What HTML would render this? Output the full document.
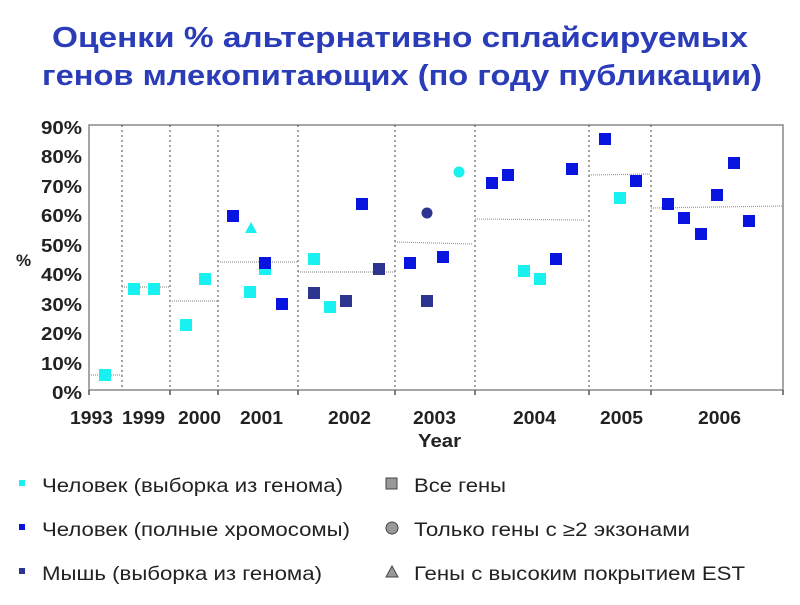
<!DOCTYPE html>
<html><head><meta charset="utf-8"><style>
body{margin:0;width:800px;height:600px;background:#fff;overflow:hidden;font-family:"Liberation Sans",sans-serif}
</style></head><body>
<svg width="800" height="600" xmlns="http://www.w3.org/2000/svg" font-family="Liberation Sans, sans-serif">
<text x="52" y="47" textLength="696" lengthAdjust="spacingAndGlyphs" font-size="29" font-weight="bold" fill="#2a3cb8">Оценки % альтернативно сплайсируемых</text>
<text x="42" y="85" textLength="720" lengthAdjust="spacingAndGlyphs" font-size="29" font-weight="bold" fill="#2a3cb8">генов млекопитающих (по году публикации)</text>
<rect x="89" y="125" width="694" height="265" fill="none" stroke="#888" stroke-width="1.5"/>
<g stroke="#444" stroke-width="1" stroke-dasharray="2,3">
<line x1="122" y1="125" x2="122" y2="390"/><line x1="170" y1="125" x2="170" y2="390"/><line x1="218" y1="125" x2="218" y2="390"/><line x1="298" y1="125" x2="298" y2="390"/><line x1="395" y1="125" x2="395" y2="390"/><line x1="475" y1="125" x2="475" y2="390"/><line x1="589" y1="125" x2="589" y2="390"/><line x1="651" y1="125" x2="651" y2="390"/>
</g>
<g stroke="#999" stroke-width="1.2" stroke-dasharray="1,1">
<line x1="89" y1="375" x2="122" y2="375"/><line x1="122" y1="287" x2="170" y2="287"/><line x1="170" y1="301" x2="218" y2="301"/><line x1="218" y1="262" x2="298" y2="262"/><line x1="298" y1="272" x2="395" y2="272"/><line x1="395" y1="242" x2="473" y2="244"/><line x1="475" y1="219" x2="585" y2="220"/><line x1="589" y1="175" x2="650" y2="174"/><line x1="651" y1="208" x2="783" y2="206"/>
</g>
<g stroke="#555" stroke-width="1.5"><line x1="89" y1="390" x2="89" y2="395"/><line x1="170" y1="390" x2="170" y2="395"/><line x1="218" y1="390" x2="218" y2="395"/><line x1="298" y1="390" x2="298" y2="395"/><line x1="395" y1="390" x2="395" y2="395"/><line x1="475" y1="390" x2="475" y2="395"/><line x1="589" y1="390" x2="589" y2="395"/><line x1="651" y1="390" x2="651" y2="395"/><line x1="783" y1="390" x2="783" y2="395"/></g>
<g font-size="18" font-weight="bold" fill="#222">
<text x="41" y="134" textLength="41" lengthAdjust="spacingAndGlyphs">90%</text><text x="41" y="163" textLength="41" lengthAdjust="spacingAndGlyphs">80%</text><text x="41" y="193" textLength="41" lengthAdjust="spacingAndGlyphs">70%</text><text x="41" y="222" textLength="41" lengthAdjust="spacingAndGlyphs">60%</text><text x="41" y="252" textLength="41" lengthAdjust="spacingAndGlyphs">50%</text><text x="41" y="281" textLength="41" lengthAdjust="spacingAndGlyphs">40%</text><text x="41" y="311" textLength="41" lengthAdjust="spacingAndGlyphs">30%</text><text x="41" y="340" textLength="41" lengthAdjust="spacingAndGlyphs">20%</text><text x="41" y="370" textLength="41" lengthAdjust="spacingAndGlyphs">10%</text><text x="52" y="399" textLength="30" lengthAdjust="spacingAndGlyphs">0%</text>
</g>
<text x="16" y="266" font-size="17" font-weight="bold" fill="#222">%</text>
<g font-size="18" font-weight="bold" fill="#222">
<text x="70" y="424" textLength="43" lengthAdjust="spacingAndGlyphs">1993</text><text x="122" y="424" textLength="43" lengthAdjust="spacingAndGlyphs">1999</text><text x="178" y="424" textLength="43" lengthAdjust="spacingAndGlyphs">2000</text><text x="240" y="424" textLength="43" lengthAdjust="spacingAndGlyphs">2001</text><text x="328" y="424" textLength="43" lengthAdjust="spacingAndGlyphs">2002</text><text x="413" y="424" textLength="43" lengthAdjust="spacingAndGlyphs">2003</text><text x="513" y="424" textLength="43" lengthAdjust="spacingAndGlyphs">2004</text><text x="600" y="424" textLength="43" lengthAdjust="spacingAndGlyphs">2005</text><text x="698" y="424" textLength="43" lengthAdjust="spacingAndGlyphs">2006</text>
<text x="418" y="447" textLength="43" lengthAdjust="spacingAndGlyphs">Year</text>
</g>
<g fill="#19f0f0">
<rect x="99" y="369" width="12" height="12"/><rect x="128" y="283" width="12" height="12"/><rect x="148" y="283" width="12" height="12"/><rect x="180" y="319" width="12" height="12"/><rect x="199" y="273" width="12" height="12"/><rect x="244" y="286" width="12" height="12"/><rect x="259" y="263" width="12" height="12"/><rect x="308" y="253" width="12" height="12"/><rect x="324" y="301" width="12" height="12"/><circle cx="459" cy="172" r="5.5"/><rect x="518" y="265" width="12" height="12"/><rect x="534" y="273" width="12" height="12"/><rect x="614" y="192" width="12" height="12"/>
<polygon points="251,222 257,233 245,233"/>
</g>
<g fill="#0a14e0">
<rect x="227" y="210" width="12" height="12"/><rect x="259" y="257" width="12" height="12"/><rect x="276" y="298" width="12" height="12"/><rect x="356" y="198" width="12" height="12"/><rect x="404" y="257" width="12" height="12"/><rect x="437" y="251" width="12" height="12"/><rect x="486" y="177" width="12" height="12"/><rect x="502" y="169" width="12" height="12"/><rect x="566" y="163" width="12" height="12"/><rect x="550" y="253" width="12" height="12"/><rect x="599" y="133" width="12" height="12"/><rect x="630" y="175" width="12" height="12"/><rect x="662" y="198" width="12" height="12"/><rect x="678" y="212" width="12" height="12"/><rect x="695" y="228" width="12" height="12"/><rect x="711" y="189" width="12" height="12"/><rect x="728" y="157" width="12" height="12"/><rect x="743" y="215" width="12" height="12"/>
</g>
<g fill="#2e3591">
<rect x="308" y="287" width="12" height="12"/><rect x="340" y="295" width="12" height="12"/><rect x="373" y="263" width="12" height="12"/><rect x="421" y="295" width="12" height="12"/><circle cx="427" cy="213" r="5.5"/>
</g>
<g font-size="19" fill="#222">
<rect x="19" y="480" width="6" height="6" fill="#19f0f0"/><text x="42" y="492" textLength="301" lengthAdjust="spacingAndGlyphs">Человек (выборка из генома)</text>
<rect x="19" y="524" width="6" height="6" fill="#0a14e0"/><text x="42" y="536" textLength="308" lengthAdjust="spacingAndGlyphs">Человек (полные хромосомы)</text>
<rect x="19" y="568" width="6" height="6" fill="#2e3591"/><text x="42" y="580" textLength="280" lengthAdjust="spacingAndGlyphs">Мышь (выборка из генома)</text>
<rect x="386" y="478" width="11" height="11" fill="#999" stroke="#444"/><text x="414" y="492" textLength="92" lengthAdjust="spacingAndGlyphs">Все гены</text>
<circle cx="392" cy="528" r="6" fill="#999" stroke="#444"/><text x="414" y="536" textLength="276" lengthAdjust="spacingAndGlyphs">Только гены с ≥2 экзонами</text>
<polygon points="392,566 398,577 386,577" fill="#999" stroke="#444"/><text x="414" y="580" textLength="331" lengthAdjust="spacingAndGlyphs">Гены с высоким покрытием EST</text>
</g>
</svg>
</body></html>
